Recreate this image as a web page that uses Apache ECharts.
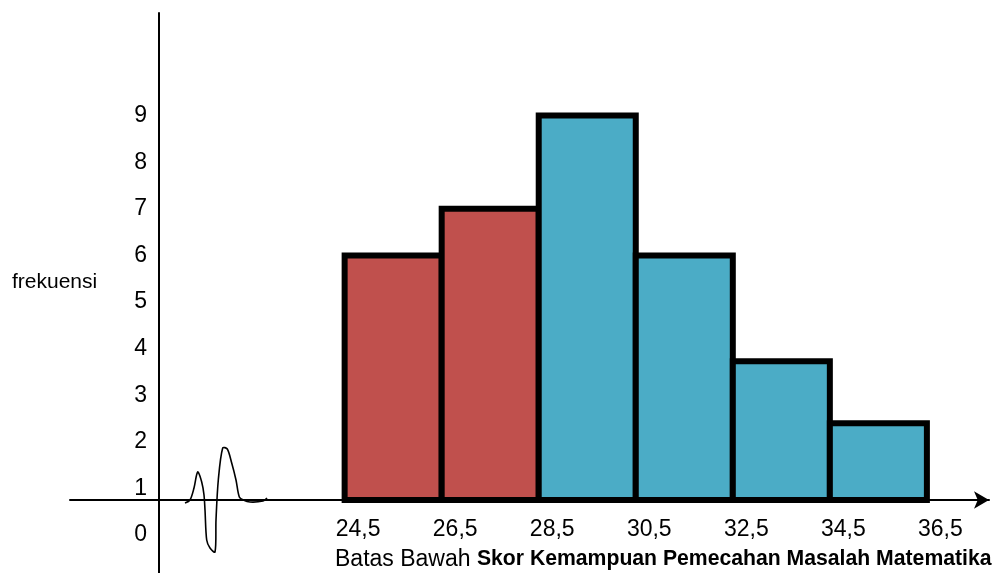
<!DOCTYPE html>
<html>
<head>
<meta charset="utf-8">
<script src="https://cdn.jsdelivr.net/npm/echarts@6/dist/echarts.min.js"></script>
<style>
html,body{margin:0;padding:0;background:#fff;}
#chart{width:1002px;height:573px;}
</style>
</head>
<body>
<div id="chart"></div>
<script>
// Class boundaries (lower, upper) and frequencies
const lowerBounds = [24.5, 26.5, 28.5, 30.5, 32.5, 34.5];
const upperBounds = [26.5, 28.5, 30.5, 32.5, 34.5, 36.5];
const frequencies = [6, 7, 9, 6, 3.73, 2.4];
const xTickLabels = [24.5, 26.5, 28.5, 30.5, 32.5, 34.5, 36.5];
const yTickLabels = [0, 1, 2, 3, 4, 5, 6, 7, 8, 9];
const yAxisTitle = 'frekuensi';
const xTitleNormal = 'Batas Bawah ';
const xTitleBold = 'Skor Kemampuan Pemecahan Masalah Matematika';

// styles (kept separate from data)
const barColors = ['#C0504D', '#C0504D', '#4BACC6', '#4BACC6', '#4BACC6', '#4BACC6'];
const FONT = "'Liberation Sans', Arial, sans-serif";
const X_AXIS_SHIFT = 73; // x axis drawn above grid bottom

const chart = echarts.init(document.getElementById('chart'), null, {renderer: 'canvas'});

const barData = lowerBounds.map((lo, i) => [lo, upperBounds[i], frequencies[i]]);

const option = {
  animation: false,
  backgroundColor: '#fff',
  title: [{
    text: '{n|' + xTitleNormal + '}{b|' + xTitleBold + '}',
    left: 335,
    top: 548,
    padding: 0,
    textStyle: {
      rich: {
        n: {fontFamily: FONT, fontSize: 23, color: '#000', fontWeight: 'normal'},
        b: {fontFamily: FONT, fontSize: 21.2, color: '#000', fontWeight: 'bold'}
      }
    }
  }, {
    text: yAxisTitle,
    left: 12,
    top: 272,
    padding: 0,
    textStyle: {fontFamily: FONT, fontSize: 21, color: '#000', fontWeight: 'normal'}
  }],
  grid: {left: 70, right: 13, top: 13, bottom: 0, containLabel: false},
  xAxis: {
    type: 'value',
    min: 18.84,
    max: 37.78,
    position: 'bottom',
    offset: -X_AXIS_SHIFT,
    axisLine: {
      show: true,
      onZero: false,
      symbol: ['none', 'arrow'],
      symbolSize: [13, 15],
      lineStyle: {color: '#000', width: 2}
    },
    axisTick: {show: false},
    splitLine: {show: false},
    axisLabel: {
      customValues: xTickLabels,
      margin: 18,
      fontFamily: FONT,
      fontSize: 23,
      color: '#000',
      padding: [0, 0, 0, 27],
      formatter: v => String(v).replace('.', ',')
    }
  },
  yAxis: {
    type: 'value',
    min: -0.8155,
    max: 11.2017,
    position: 'left',
    offset: -89,
    axisLine: {show: true, onZero: false, lineStyle: {color: '#000', width: 2}},
    axisTick: {show: false},
    splitLine: {show: false},
    axisLabel: {
      customValues: yTickLabels,
      margin: 12,
      fontFamily: FONT,
      fontSize: 23,
      color: '#000',
      formatter: v => String(v)
    }
  },
  series: [{
    type: 'custom',
    data: barData,
    encode: {x: [0, 1], y: 2},
    renderItem: function (params, api) {
      const cs = params.coordSys;
      const baseY = cs.y + cs.height - X_AXIS_SHIFT;
      const left = api.coord([api.value(0), 0])[0];
      const right = api.coord([api.value(1), 0])[0];
      const top = api.coord([api.value(0), api.value(2)])[1];
      return {
        type: 'rect',
        shape: {x: left, y: top, width: right - left, height: baseY - top},
        style: {fill: barColors[params.dataIndex], stroke: '#000', lineWidth: 6}
      };
    },
    z: 3
  }],
  graphic: [{
    type: 'polyline',
    z: 10,
    shape: {
      smooth: 0.3,
      points: [[185,503],[190,500],[194,488],[197.7,472],[201.7,482],[204,495],[205,510],[206.7,540],[210,548],[215,552],[216,520],[218.3,480],[222.7,448],[227.3,449],[231.7,463],[236,480],[239.3,497],[243.3,500],[250,502],[263,501],[267,498]]
    },
    style: {stroke: '#000', lineWidth: 1.6, fill: null}
  }]
};

chart.setOption(option);
</script>
</body>
</html>
